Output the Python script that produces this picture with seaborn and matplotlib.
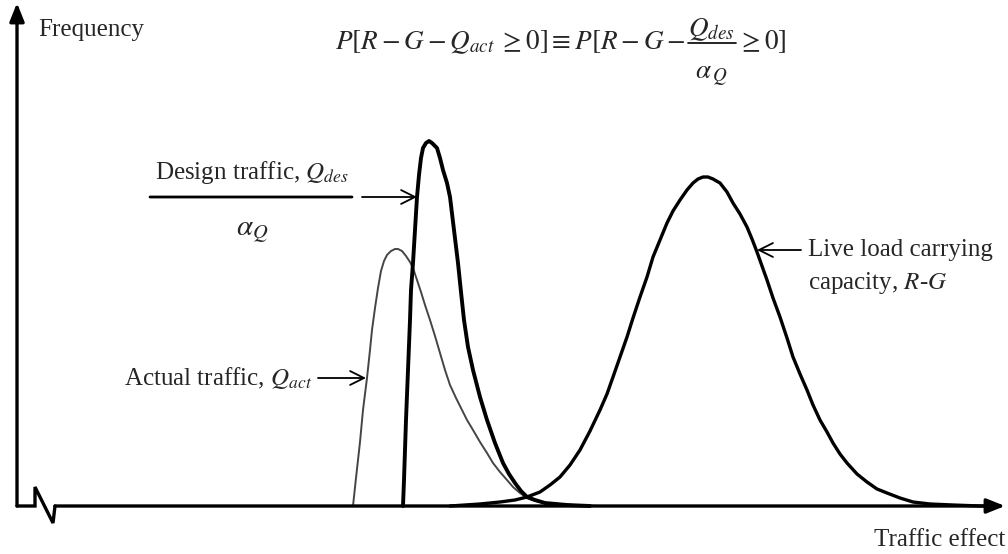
import matplotlib
matplotlib.use("Agg")
import matplotlib.pyplot as plt
import seaborn as sns

# curve points: traffic effect (x) and frequency (y), arbitrary units
actual_x = [336, 339, 343, 346, 350, 353, 355, 358, 361, 364, 367, 370, 374, 378, 381, 385,
            389, 393, 396, 400, 404, 408, 413, 418, 423, 428, 433, 439, 445, 450, 456, 463,
            470, 476, 483, 490, 496, 503, 510, 518, 528, 541, 556, 583]
actual_y = [0, 28, 64, 96, 128, 156, 176, 198, 218, 235, 245, 251, 255, 257, 257, 255,
            250, 244, 238, 226, 214, 201, 186, 170, 153, 136, 121, 108, 96, 86, 76, 64,
            53, 43, 34, 26, 19, 13, 8, 5, 3, 2, 1, 0]

design_x = [386, 387, 388, 389, 391, 393, 394, 396, 398, 400, 402, 404, 406, 409, 412, 415,
            420, 423, 426, 430, 433, 437, 441, 444, 447, 451, 456, 463, 470, 478, 486, 492,
            498, 504, 510, 518, 528, 539, 550, 573]
design_y = [0, 26, 56, 86, 136, 186, 216, 243, 276, 309, 331, 348, 358, 363, 365, 363,
            358, 348, 336, 323, 309, 276, 243, 214, 186, 159, 136, 109, 86, 63, 43, 32,
            23, 15, 9, 6, 3, 2, 1, 0]

capacity_x = [433, 463, 483, 498, 510, 523, 533, 543, 553, 563, 573, 583, 590, 596, 603, 610,
              616, 623, 630, 636, 643, 650, 656, 663, 670, 676, 681, 686, 691, 696, 703, 710,
              716, 723, 730, 735, 740, 745, 750, 756, 763, 770, 776, 783, 790, 796, 803, 810,
              816, 823, 830, 840, 850, 860, 870, 883, 896, 913, 936, 963, 983]
capacity_y = [0, 2, 4, 6, 9, 14, 21, 29, 41, 56, 75, 96, 112, 129, 149, 169,
              188, 209, 229, 249, 266, 283, 295, 306, 316, 323, 327, 329, 329, 327, 323, 314,
              303, 292, 279, 267, 254, 240, 226, 208, 189, 168, 149, 132, 116, 101, 86, 74,
              63, 52, 43, 32, 24, 17, 13, 8, 4, 2, 1, 0, 0]

formula_left = r"$P[R-G-Q_{act}\;\geq 0]\equiv P[R-G-$"
formula_num = r"$Q_{des}$"
formula_den = r"$\alpha_{\,Q}$"
formula_right = r"$\geq 0]$"
design_num = r"Design traffic, $Q_{des}$"
design_den = r"$\alpha_Q$"
actual_label = r"Actual traffic, $Q_{act}$"
capacity_label = ["Live load carrying", r"capacity, $R$-$G$"]
x_label = "Traffic effect"
y_label = "Frequency"

sns.set_theme(style="white")
plt.rcParams["font.family"] = ["Liberation Serif", "DejaVu Serif"]
plt.rcParams["mathtext.fontset"] = "stix"

fig = plt.figure(figsize=(10.08, 5.54), dpi=100)
ax = fig.add_axes([0, 0, 1, 1])
ax.set_xlim(-17, 991)
ax.set_ylim(-48, 506)
ax.axis("off")

fs = 18

sns.lineplot(x=actual_x, y=actual_y, sort=False, ax=ax, color="#454545", lw=1.4)
sns.lineplot(x=design_x, y=design_y, sort=False, ax=ax, color="black", lw=2.8)
sns.lineplot(x=capacity_x, y=capacity_y, sort=False, ax=ax, color="black", lw=2.4)

# axes drawn as arrows, with the break mark near the origin
axis_head = dict(arrowstyle="-|>,head_length=0.55,head_width=0.22", mutation_scale=20,
                 color="black", lw=2.4, shrinkA=0, shrinkB=0)
ax.annotate("", xy=(0, 503), xytext=(0, 0), arrowprops=axis_head)
ax.plot([0, 18, 18, 36, 38], [0, 0, 19, -17, 0], color="black", lw=2.4,
        solid_joinstyle="miter")
ax.annotate("", xy=(988, 0), xytext=(38, 0), arrowprops=axis_head)

# labels with open arrows
pointer = dict(arrowstyle="->,head_length=0.5,head_width=0.25", mutation_scale=20,
               color="black", lw=1.3, shrinkA=0, shrinkB=0)
plain = dict(arrowstyle="-", color="black", lw=2.0, shrinkA=0, shrinkB=0)
ax.annotate("", xy=(400, 309), xytext=(345, 309), arrowprops=pointer)
ax.annotate("", xy=(349, 128), xytext=(301, 128), arrowprops=pointer)
ax.annotate("", xy=(740, 256), xytext=(784, 256), arrowprops=pointer)

ax.text(21, 476, y_label, fontsize=fs, ha="left", va="center")
ax.text(988, -34, x_label, fontsize=fs, ha="right", va="center")

# probability statement at the top
ffs = 19.5
ax.text(668, 464, formula_left, fontsize=ffs, ha="right", va="center")
ax.text(694, 476, formula_num, fontsize=ffs, ha="center", va="center")
ax.annotate("", xy=(719, 463), xytext=(671, 463),
            arrowprops=dict(plain, lw=1.2))
ax.text(694, 429, formula_den, fontsize=ffs, ha="center", va="center")
ax.text(721, 464, formula_right, fontsize=ffs, ha="left", va="center")

# design traffic label as a fraction
ax.text(235, 334, design_num, fontsize=fs, ha="center", va="center")
ax.annotate("", xy=(335, 309), xytext=(133, 309), arrowprops=plain)
ax.text(235, 273, design_den, fontsize=21, ha="center", va="center")

ax.text(295, 128, actual_label, fontsize=fs, ha="right", va="center")
ax.text(791, 256, capacity_label[0], fontsize=fs, ha="left", va="center")
ax.text(791, 223, capacity_label[1], fontsize=fs, ha="left", va="center")

fig.savefig("out.png", dpi=100, facecolor="white")
